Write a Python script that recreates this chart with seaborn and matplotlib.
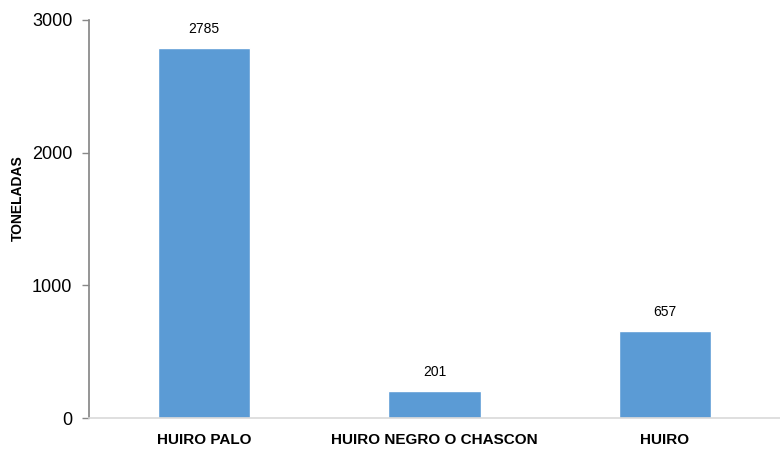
import matplotlib
matplotlib.use("Agg")
import matplotlib.pyplot as plt
import seaborn as sns
import pandas as pd

# Data
species = ['HUIRO PALO', 'HUIRO NEGRO O CHASCON', 'HUIRO']
tonnes = [2785, 201, 657]

df = pd.DataFrame({'Especie': species, 'Toneladas': tonnes})

sns.set_theme(style='white')
plt.rcParams['font.family'] = ['Liberation Sans', 'DejaVu Sans']
plt.rcParams['text.color'] = 'black'
plt.rcParams['xtick.color'] = 'black'
plt.rcParams['ytick.color'] = 'black'
plt.rcParams['axes.labelcolor'] = 'black'

fig, ax = plt.subplots(figsize=(7.8, 4.61), dpi=100)
fig.subplots_adjust(left=0.114, right=1.0, top=0.957, bottom=0.093)

sns.barplot(data=df, x='Especie', y='Toneladas', color='#5B9BD5',
            saturation=1, width=0.4, ax=ax)

for i, v in enumerate(tonnes):
    ax.text(i, v + 90, str(v), ha='center', va='bottom', fontsize=10, color='black')

ax.set_ylim(0, 3000)
ax.set_xlim(-0.5, 2.5)
ax.set_yticks([0, 1000, 2000, 3000])
ax.tick_params(axis='y', labelsize=13, length=5, width=1, color='#888888',
               labelcolor='black', left=True, pad=7)
ax.tick_params(axis='x', length=0, pad=11, labelcolor='black')
for lbl in ax.get_xticklabels():
    lbl.set_fontweight('bold')
    lbl.set_fontsize(11)

ax.set_xlabel('')
ax.set_ylabel('TONELADAS', fontsize=10, fontweight='bold')
ax.yaxis.set_label_coords(-0.093, 0.553)

sns.despine(ax=ax, top=True, right=True)
ax.spines['left'].set_color('#888888')
ax.spines['bottom'].set_color('#d9d9d9')
ax.spines['bottom'].set_linewidth(1.2)

fig.savefig('out.png', dpi=100)
